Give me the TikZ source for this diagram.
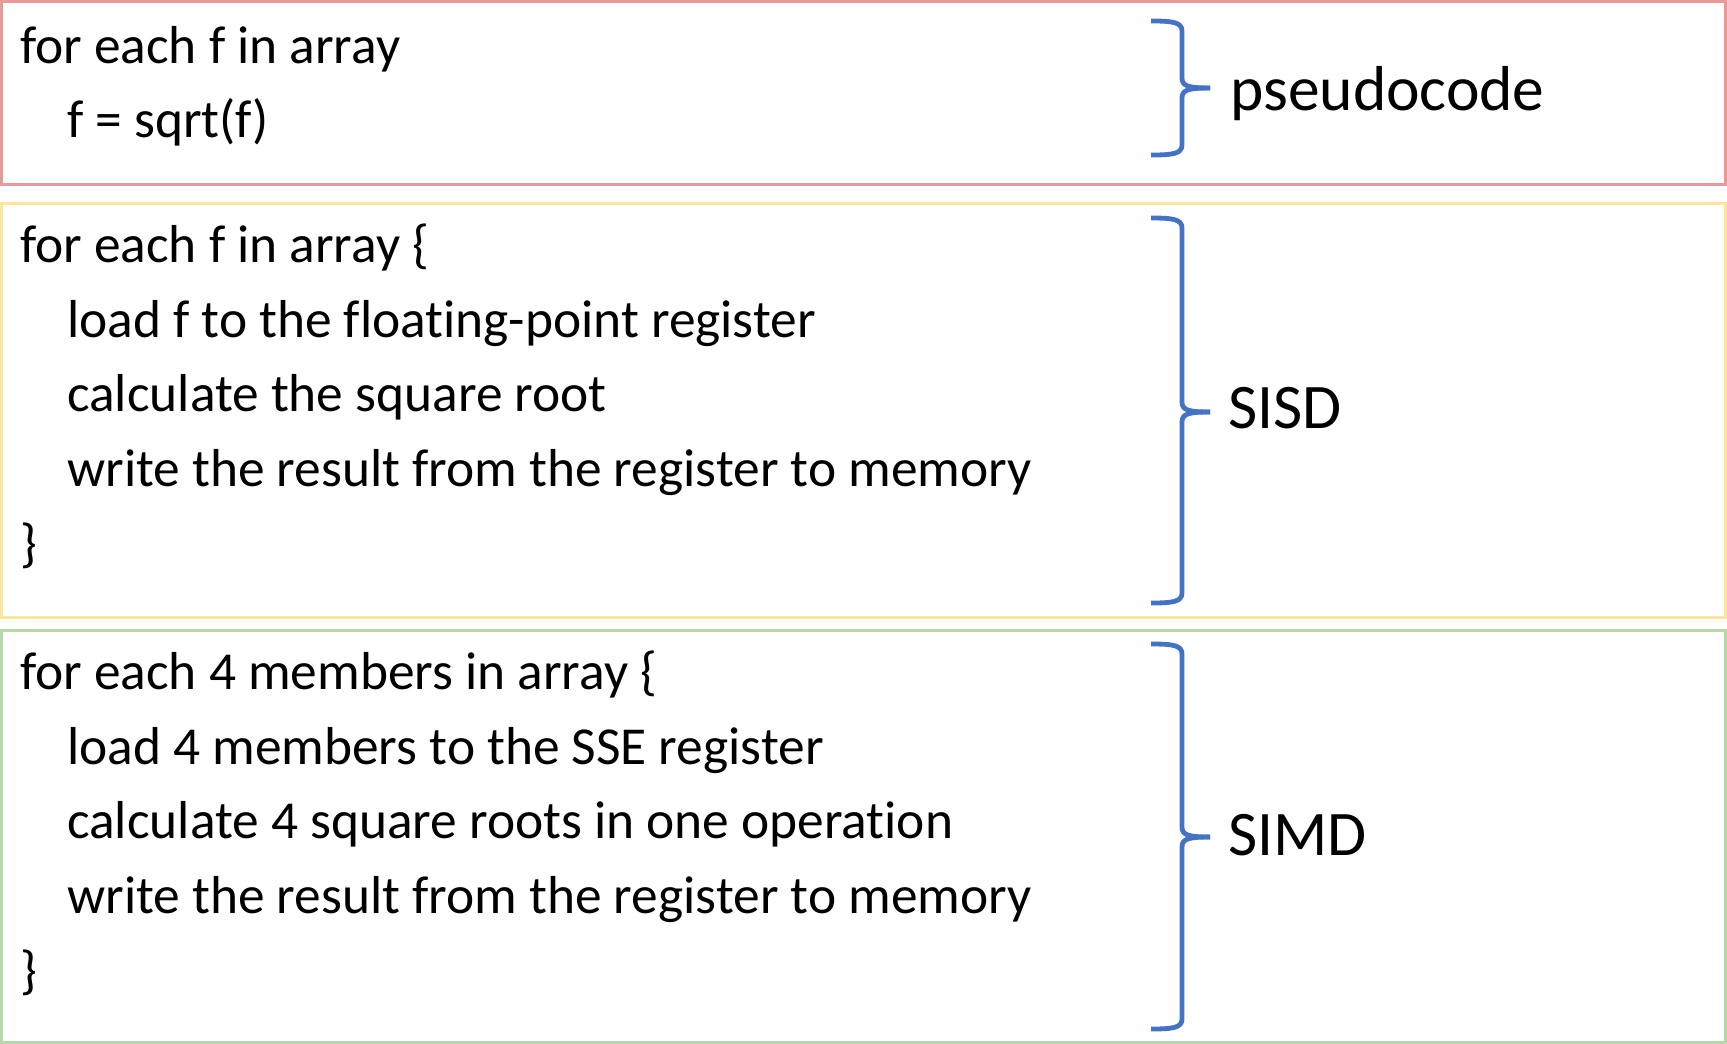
\documentclass[tikz,border=0pt]{standalone}
\usepackage{fontspec}
\setmainfont{Carlito}[RawFeature={-liga;-clig;-dlig}]
\definecolor{boxred}{RGB}{234,153,153}
\definecolor{boxyellow}{RGB}{255,229,153}
\definecolor{boxgreen}{RGB}{182,215,168}
\definecolor{braceblue}{RGB}{68,114,196}
\newcommand{\drawbrace}[3]{%
  \draw[bracestyle] (1151,#1) .. controls (1172,#1) and (1182,#1+1) .. (1182,#1+10) -- (1182,#2-10) .. controls (1182,#2-2) and (1188,#2) .. (1210,#2);
  \draw[bracestyle] (1151,#3) .. controls (1172,#3) and (1182,#3-1) .. (1182,#3-10) -- (1182,#2+10) .. controls (1182,#2+2) and (1188,#2) .. (1210,#2);
}
\begin{document}
\begin{tikzpicture}[x=1pt,y=-1pt,
  codetext/.style={anchor=base west,inner sep=0pt,font=\fontsize{53.4}{60}\selectfont},
  labeltext/.style={anchor=base west,inner sep=0pt,font=\fontsize{63.5}{72}\selectfont},
  framebox/.style={line width=3pt},
  bracestyle/.style={draw=braceblue,line width=4.8pt,line join=round}]
\useasboundingbox (0,0) rectangle (1727,1044);
\fill[white] (0,0) rectangle (1727,1044);
% boxes
\draw[framebox,draw=boxred] (1.5,1.5) rectangle (1725,184);
\draw[framebox,draw=boxyellow] (1.5,203) rectangle (1725,617);
\draw[framebox,draw=boxgreen] (1.5,630) rectangle (1725,1042);
% pseudocode
\node[codetext] (p1) at (20,63) {for each f in array};
\node[codetext] (p2) at (67,137) {f = sqrt(f)};
\drawbrace{21}{88}{155}
\node[labeltext] (lp) at (1230,110) {pseudocode};
% SISD
\node[codetext] (s1) at (20,262) {for each f in array \{};
\node[codetext] (s2) at (67,337) {load f to the floating-point register};
\node[codetext] (s3) at (67,411) {calculate the square root};
\node[codetext] (s4) at (67,486) {write the result from the register to memory};
\node[codetext] (s5) at (20,561) {\}};
\drawbrace{218}{412}{603}
\node[labeltext] (ls) at (1228,428) {SISD};
% SIMD
\node[codetext] (m1) at (20,689) {for each 4 members in array \{};
\node[codetext] (m2) at (67,764) {load 4 members to the SSE register};
\node[codetext] (m3) at (67,838) {calculate 4 square roots in one operation};
\node[codetext] (m4) at (67,913) {write the result from the register to memory};
\node[codetext] (m5) at (20,988) {\}};
\drawbrace{644}{837}{1029}
\node[labeltext] (lm) at (1228,855) {SIMD};
\end{tikzpicture}
\end{document}
